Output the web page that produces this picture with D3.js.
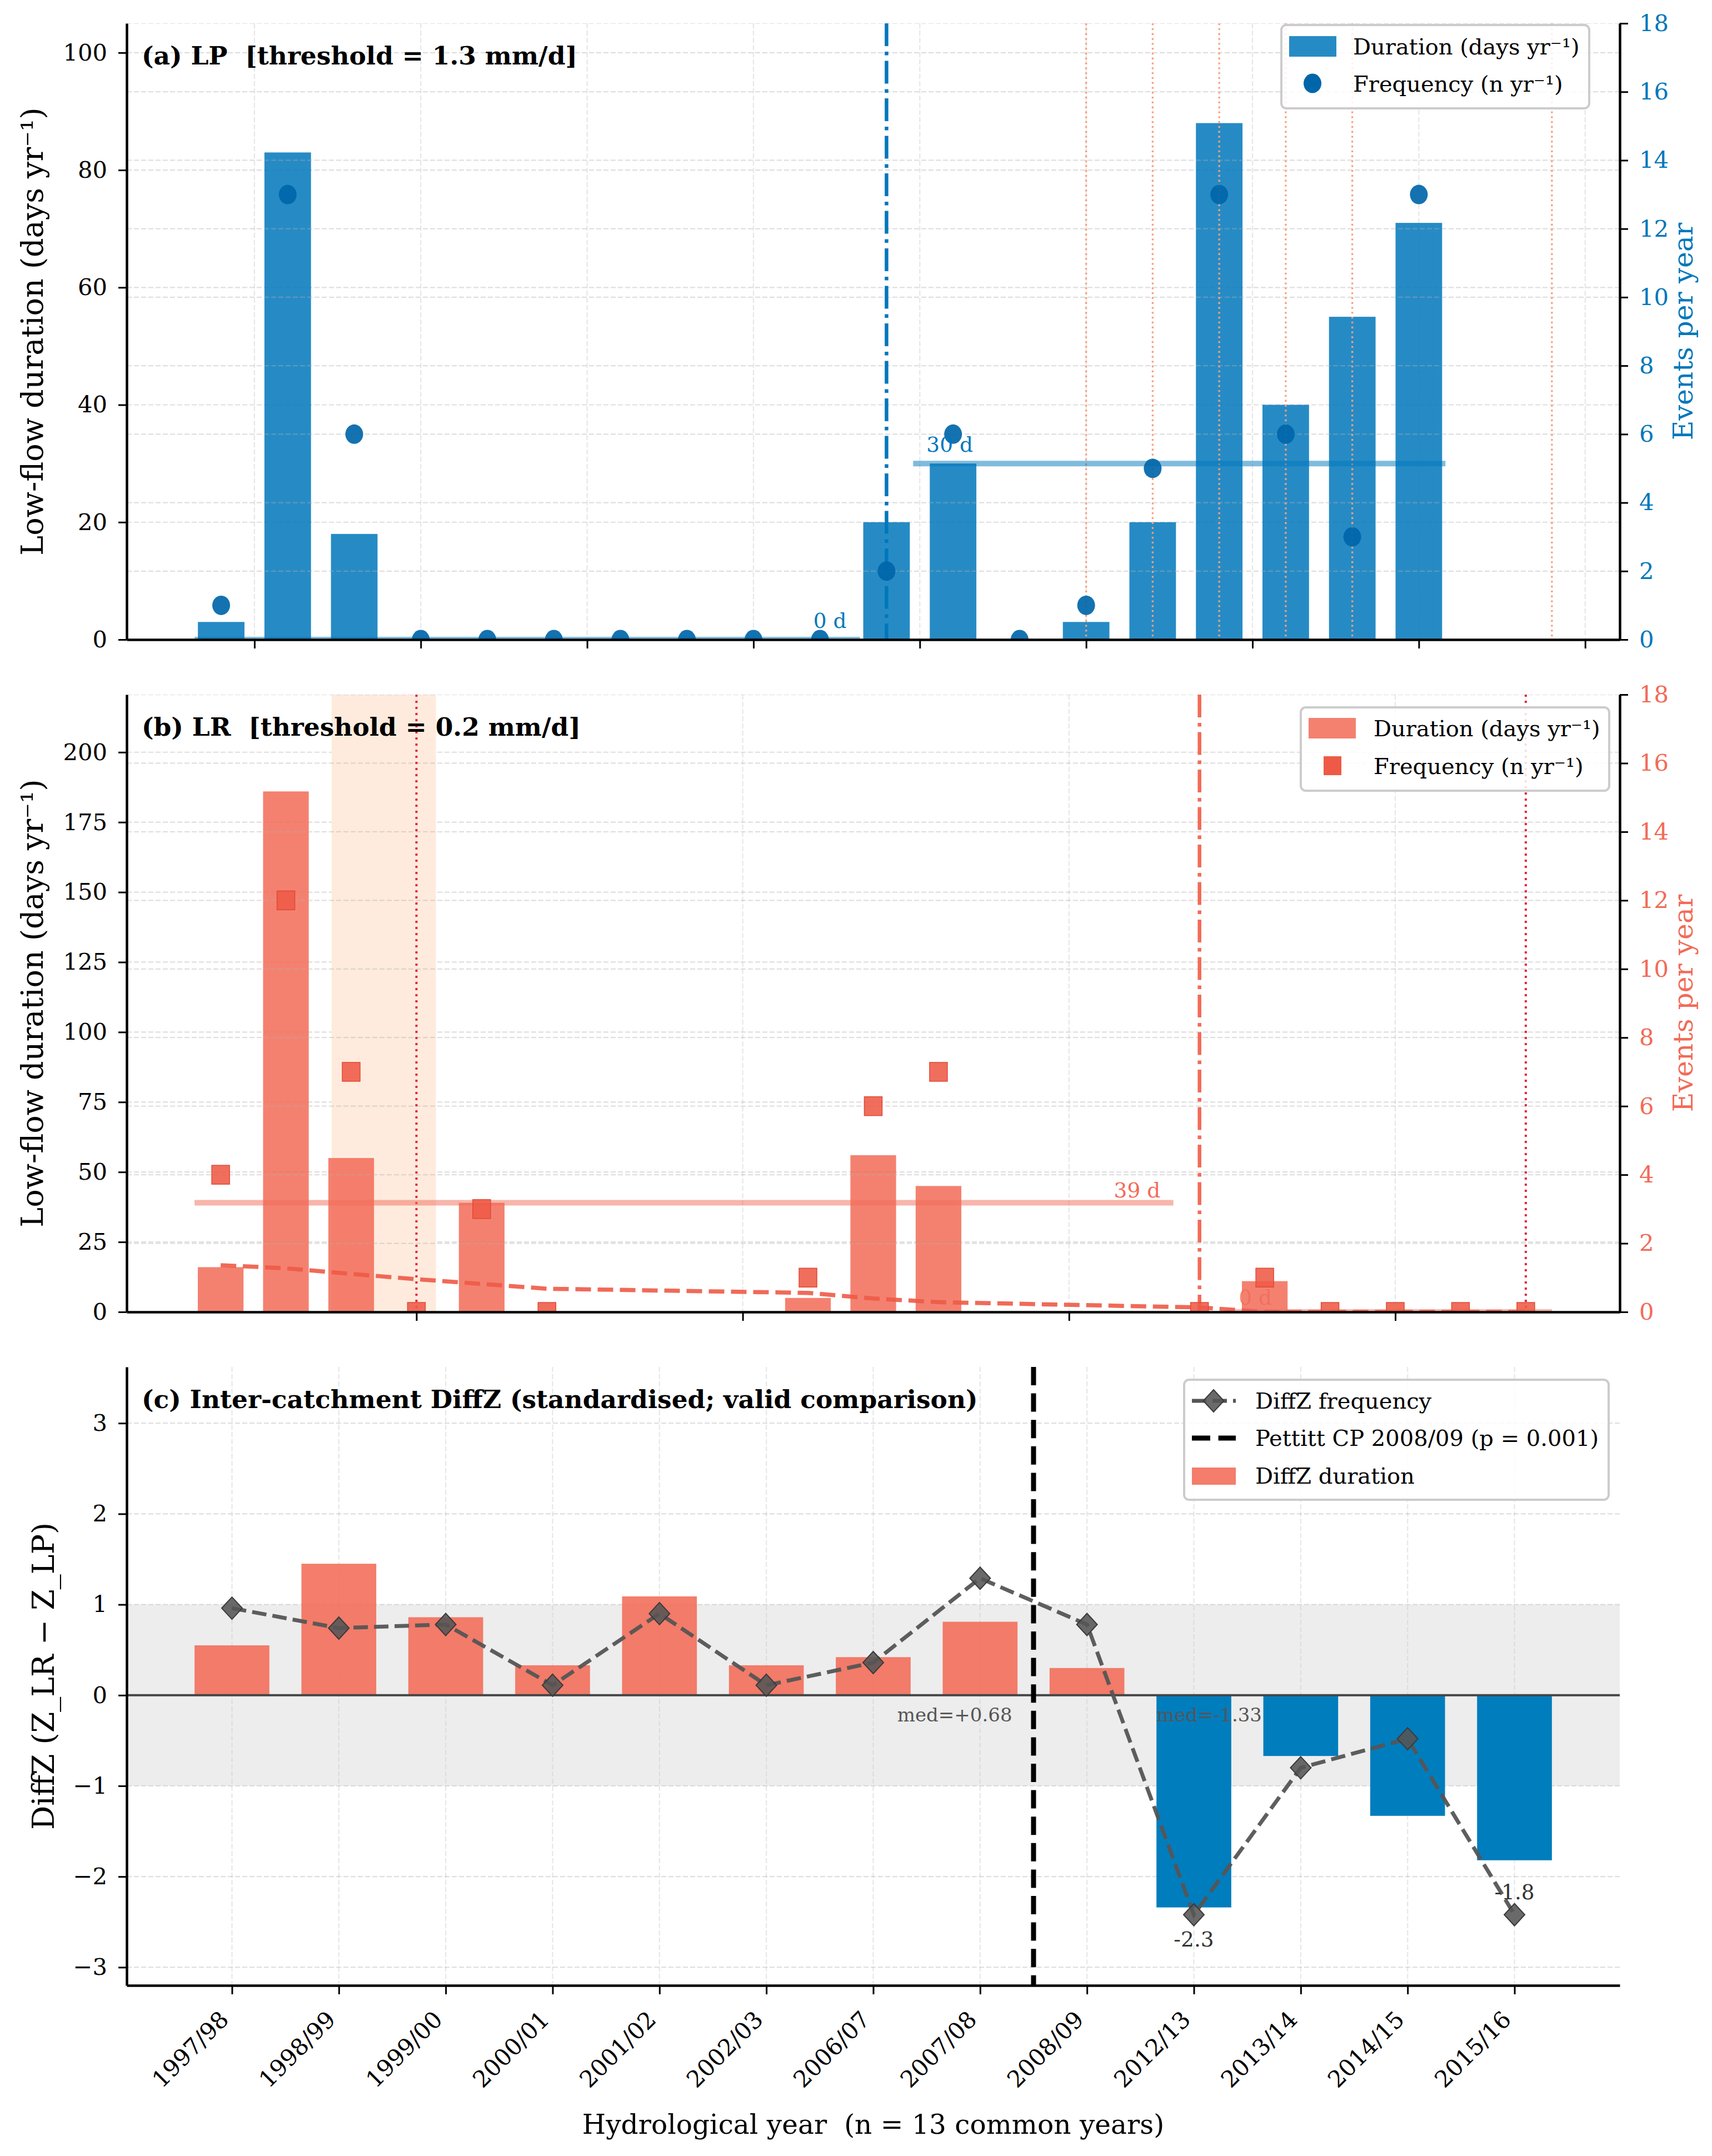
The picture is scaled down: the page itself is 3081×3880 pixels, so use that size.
<!DOCTYPE html>
<html>
<head>
<meta charset="utf-8">
<script src="https://cdn.jsdelivr.net/npm/d3@7"></script>
<style>
  body { margin: 0; background: #fff; }
  svg { display: block; }
  text { white-space: pre; }
</style>
</head>
<body>
<svg id="chart"></svg>
<script>
// ---------------- DATA ----------------
// (a) LP catchment — hydrological years (start year) 1997/98 … 2015/16
const lpYears = [1997, 1998, 1999, 2000, 2001, 2002, 2003, 2004, 2005, 2006, 2007, 2008, 2009, 2010, 2011, 2012, 2013, 2014, 2015];
const lpDuration = [3, 83, 18, 0, 0, 0, 0, 0, 0, 0, 20, 30, 0, 3, 20, 88, 40, 55, 71];
const lpFrequency = [1, 13, 6, 0, 0, 0, 0, 0, 0, 0, 2, 6, 0, 1, 5, 13, 6, 3, 13];
const lpChangeYear = 2007;
const lpMarkedYears = [2010, 2011, 2012, 2013, 2014, 2017];
const lpYearTicks = [1997.5, 2000, 2002.5, 2005, 2007.5, 2010, 2012.5, 2015, 2017.5];
const lpDurationTicks = [0, 20, 40, 60, 80, 100];

// (b) LR catchment
const lrYears = [1997, 1998, 1999, 2000, 2001, 2002, 2006, 2007, 2008, 2012, 2013, 2014, 2015, 2016, 2017];
const lrDuration = [16, 186, 55, 0, 39, 0, 5, 56, 45, 0, 11, 0, 0, 0, 0];
const lrFrequency = [4, 12, 7, 0, 3, 0, 1, 6, 7, 0, 1, 0, 0, 0, 0];
const lrTrend = [16.7, 15.6, 13.6, 11.7, 10.0, 8.3, 6.8, 4.8, 3.5, 1.6, 0, 0, 0, 0, 0];
const lrChangeYear = 2012;
const lrMarkedYears = [2000, 2017];
const lrHighlight = [1998.7, 2000.3];
const lrYearTicks = [2000, 2005, 2010, 2015];
const lrDurationTicks = [0, 25, 50, 75, 100, 125, 150, 175, 200];

const eventTicks = [0, 2, 4, 6, 8, 10, 12, 14, 16, 18];

// (c) DiffZ, 13 common years
const commonYears = ["1997/98", "1998/99", "1999/00", "2000/01", "2001/02", "2002/03", "2006/07", "2007/08", "2008/09", "2012/13", "2013/14", "2014/15", "2015/16"];
const diffDuration = [0.55, 1.45, 0.86, 0.33, 1.09, 0.33, 0.42, 0.81, 0.30, -2.34, -0.67, -1.33, -1.82];
const diffFrequency = [0.96, 0.74, 0.78, 0.11, 0.90, 0.11, 0.36, 1.29, 0.78, -2.42, -0.80, -0.48, -2.42];
const diffChangePos = 7.5;
const diffTicks = [-3, -2, -1, 0, 1, 2, 3];
const pettittLabel = "Pettitt CP 2008/09 (p = 0.001)";

// ---------------- LAYOUT ----------------
const W = 3081, H = 3880;
const FONT = "'DejaVu Serif', serif";
const L = 228, R = 2915;
const PA = { top: 42, bottom: 1151 };
const PB = { top: 1250, bottom: 2361 };
const PC = { top: 2460, bottom: 3573 };
const FS_TICK = 41.7, FS_YLAB = 54, FS_RLAB = 48.8, FS_XLAB = 48.6, FS_TITLE = 45.5, FS_LEG = 40, FS_ANN = 37.5, FS_MED = 34;

const BLUE = "#0077BB", BLUE_MK = "#0066AA";
const SALMON = "#F26B57", RED_MK = "#EE5A46", CRIMSON = "#E3263F", LIGHTSALMON = "#F7A07E";

const svg = d3.select("#chart").attr("width", W).attr("height", H);
svg.append("rect").attr("width", W).attr("height", H).attr("fill", "#fff");
const defs = svg.append("defs");
const intFmt = d3.format("d");

function clip(id, P) {
  defs.append("clipPath").attr("id", id).append("rect")
    .attr("x", L).attr("y", P.top).attr("width", R - L).attr("height", P.bottom - P.top);
  return "url(#" + id + ")";
}

function hGrid(g, scale, ticks) {
  g.selectAll(null).data(ticks).join("line")
    .attr("x1", L).attr("x2", R).attr("y1", d => scale(d)).attr("y2", d => scale(d))
    .attr("stroke", "#b0b0b0").attr("stroke-opacity", 0.4).attr("stroke-width", 2.2).attr("stroke-dasharray", "9,4");
}
function vGrid(g, scale, ticks, P) {
  g.selectAll(null).data(ticks).join("line")
    .attr("x1", d => scale(d)).attr("x2", d => scale(d)).attr("y1", P.top).attr("y2", P.bottom)
    .attr("stroke", "#b0b0b0").attr("stroke-opacity", 0.3).attr("stroke-width", 2.2).attr("stroke-dasharray", "9,4");
}
function styleAxis(g, color) {
  g.select(".domain").attr("stroke", "#000").attr("stroke-width", 4.5);
  g.selectAll(".tick line").attr("stroke", "#000").attr("stroke-width", 3);
  g.selectAll(".tick text").attr("font-family", FONT).attr("font-size", FS_TICK).attr("fill", color || "#000");
}
function yLabel(x, P, text, color, size) {
  svg.append("text").attr("transform", `translate(${x},${(P.top + P.bottom) / 2}) rotate(-90)`)
    .attr("text-anchor", "middle").attr("font-family", FONT).attr("font-size", size)
    .attr("fill", color || "#000").text(text);
}
function title(P, text) {
  svg.append("text").attr("x", 255).attr("y", P.top + 74).attr("font-family", FONT)
    .attr("font-size", FS_TITLE).attr("font-weight", "bold").attr("fill", "#000").text(text);
}
function legendFrame(x, y, w, h) {
  svg.append("rect").attr("x", x).attr("y", y).attr("width", w).attr("height", h).attr("rx", 9)
    .attr("fill", "#fff").attr("fill-opacity", 0.85).attr("stroke", "#cccccc").attr("stroke-width", 4);
}
function legendText(x, y, text) {
  svg.append("text").attr("x", x).attr("y", y).attr("font-family", FONT).attr("font-size", FS_LEG)
    .attr("fill", "#000").text(text);
}

// ======================= PANEL (a) LP =======================
{
  const x = d3.scaleLinear().domain([1995.58, 2018.02]).range([L, R]);
  const y = d3.scaleLinear().domain([0, 105]).range([PA.bottom, PA.top]);
  const y2 = d3.scaleLinear().domain([0, 18]).range([PA.bottom, PA.top]);
  const cp = clip("clipA", PA);
  const g = svg.append("g");
  hGrid(g, y, lpDurationTicks);
  vGrid(g, x, lpYearTicks, PA);
  const gc = svg.append("g").attr("clip-path", cp);
  const bw = x(0.7) - x(0);
  gc.selectAll(null).data(lpYears).join("rect")
    .attr("x", (d) => x(d) - bw / 2).attr("width", bw)
    .attr("y", (d, i) => y(lpDuration[i])).attr("height", (d, i) => y(0) - y(lpDuration[i]))
    .attr("fill", BLUE).attr("fill-opacity", 0.85);
  hGrid(gc, y2, eventTicks);
  gc.selectAll(null).data(lpMarkedYears).join("line")
    .attr("x1", d => x(d)).attr("x2", d => x(d)).attr("y1", PA.top).attr("y2", PA.bottom)
    .attr("stroke", LIGHTSALMON).attr("stroke-width", 3.3).attr("stroke-dasharray", "3.3,5.5");
  const pre = lpYears.map((d, i) => [d, lpDuration[i]]).filter(d => d[0] < lpChangeYear).map(d => d[1]);
  const post = lpYears.map((d, i) => [d, lpDuration[i]]).filter(d => d[0] >= lpChangeYear).map(d => d[1]);
  const mPre = d3.median(pre), mPost = d3.median(post);
  const segs = [[lpYears[0] - 0.4, lpChangeYear - 0.4, mPre], [lpChangeYear + 0.4, lpYears[lpYears.length - 1] + 0.4, mPost]];
  gc.selectAll(null).data(segs).join("line")
    .attr("x1", d => x(d[0])).attr("x2", d => x(d[1])).attr("y1", d => y(d[2])).attr("y2", d => y(d[2]))
    .attr("stroke", BLUE).attr("stroke-opacity", 0.5).attr("stroke-width", 10);
  svg.append("text").attr("x", x(lpChangeYear - 0.6)).attr("y", y(mPre + 2)).attr("text-anchor", "end")
    .attr("font-family", FONT).attr("font-size", FS_ANN).attr("fill", BLUE).text(mPre + " d");
  svg.append("text").attr("x", x(lpChangeYear + 0.6)).attr("y", y(mPost + 2)).attr("text-anchor", "start")
    .attr("font-family", FONT).attr("font-size", FS_ANN).attr("fill", BLUE).text(mPost + " d");
  gc.append("line").attr("x1", x(lpChangeYear)).attr("x2", x(lpChangeYear)).attr("y1", PA.top).attr("y2", PA.bottom)
    .attr("stroke", BLUE).attr("stroke-width", 6.5).attr("stroke-dasharray", "41,10,6.5,10");
  gc.selectAll(null).data(lpYears).join("ellipse")
    .attr("cx", d => x(d)).attr("cy", (d, i) => y2(lpFrequency[i])).attr("rx", 16).attr("ry", 17.5)
    .attr("fill", BLUE_MK).attr("fill-opacity", 0.92);
  const ax = svg.append("g").attr("transform", `translate(${L},0)`)
    .call(d3.axisLeft(y).tickValues(lpDurationTicks).tickFormat(intFmt).tickSize(15).tickPadding(20).tickSizeOuter(0));
  styleAxis(ax);
  const ax2 = svg.append("g").attr("transform", `translate(${R},0)`)
    .call(d3.axisRight(y2).tickValues(eventTicks).tickFormat(intFmt).tickSize(15).tickPadding(20).tickSizeOuter(0));
  styleAxis(ax2, BLUE);
  const axb = svg.append("g").attr("transform", `translate(0,${PA.bottom})`)
    .call(d3.axisBottom(x).tickValues(lpYearTicks).tickSize(16).tickFormat("").tickSizeOuter(0));
  styleAxis(axb);
  yLabel(77, PA, "Low-flow duration (days yr⁻¹)", "#000", FS_YLAB);
  yLabel(3046, PA, "Events per year", BLUE, FS_RLAB);
  title(PA, "(a) LP  [threshold = 1.3 mm/d]");
  legendFrame(2306, 45, 554, 150);
  svg.append("rect").attr("x", 2320).attr("y", 65).attr("width", 85).attr("height", 37).attr("fill", BLUE).attr("fill-opacity", 0.85);
  svg.append("ellipse").attr("cx", 2362).attr("cy", 150).attr("rx", 16).attr("ry", 17.5).attr("fill", BLUE_MK);
  legendText(2435, 98, "Duration (days yr⁻¹)");
  legendText(2435, 165, "Frequency (n yr⁻¹)");
}

// ======================= PANEL (b) LR =======================
{
  const x = d3.scaleLinear().domain([1995.56, 2018.44]).range([L, R]);
  const y = d3.scaleLinear().domain([0, 220.6]).range([PB.bottom, PB.top]);
  const y2 = d3.scaleLinear().domain([0, 18]).range([PB.bottom, PB.top]);
  const cp = clip("clipB", PB);
  const g = svg.append("g");
  hGrid(g, y, lrDurationTicks);
  vGrid(g, x, lrYearTicks, PB);
  const gc = svg.append("g").attr("clip-path", cp);
  gc.append("rect").attr("x", x(lrHighlight[0])).attr("width", x(lrHighlight[1]) - x(lrHighlight[0]))
    .attr("y", PB.top).attr("height", PB.bottom - PB.top).attr("fill", "#FEEBDD");
  const bw = x(0.7) - x(0);
  gc.selectAll(null).data(lrYears).join("rect")
    .attr("x", d => x(d) - bw / 2).attr("width", bw)
    .attr("y", (d, i) => y(lrDuration[i])).attr("height", (d, i) => y(0) - y(lrDuration[i]))
    .attr("fill", SALMON).attr("fill-opacity", 0.85);
  hGrid(gc, y2, eventTicks);
  gc.selectAll(null).data(lrMarkedYears).join("line")
    .attr("x1", d => x(d)).attr("x2", d => x(d)).attr("y1", PB.top).attr("y2", PB.bottom)
    .attr("stroke", CRIMSON).attr("stroke-width", 4).attr("stroke-dasharray", "4,7");
  const pre = lrYears.map((d, i) => [d, lrDuration[i]]).filter(d => d[0] < lrChangeYear).map(d => d[1]);
  const post = lrYears.map((d, i) => [d, lrDuration[i]]).filter(d => d[0] >= lrChangeYear).map(d => d[1]);
  const mPre = d3.median(pre), mPost = d3.median(post);
  const segs = [[lrYears[0] - 0.4, lrChangeYear - 0.4, mPre], [lrChangeYear + 0.4, lrYears[lrYears.length - 1] + 0.4, mPost]];
  gc.selectAll(null).data(segs).join("line")
    .attr("x1", d => x(d[0])).attr("x2", d => x(d[1])).attr("y1", d => y(d[2])).attr("y2", d => y(d[2]))
    .attr("stroke", SALMON).attr("stroke-opacity", 0.5).attr("stroke-width", 10);
  const line = d3.line().x((d, i) => x(lrYears[i])).y(d => y(d));
  gc.append("path").attr("d", line(lrTrend)).attr("fill", "none").attr("stroke", RED_MK)
    .attr("stroke-opacity", 0.9).attr("stroke-width", 7.5).attr("stroke-dasharray", "28,12");
  svg.append("text").attr("x", x(lrChangeYear - 0.6)).attr("y", y(mPre + 2)).attr("text-anchor", "end")
    .attr("font-family", FONT).attr("font-size", FS_ANN).attr("fill", SALMON).text(mPre + " d");
  svg.append("text").attr("x", x(lrChangeYear + 0.6)).attr("y", y(mPost + 2.5)).attr("text-anchor", "start")
    .attr("font-family", FONT).attr("font-size", FS_ANN).attr("fill", SALMON).attr("fill-opacity", 0.8).text(mPost + " d");
  gc.append("line").attr("x1", x(lrChangeYear)).attr("x2", x(lrChangeYear)).attr("y1", PB.top).attr("y2", PB.bottom)
    .attr("stroke", SALMON).attr("stroke-width", 6.5).attr("stroke-dasharray", "41,10,6.5,10");
  gc.selectAll(null).data(lrYears).join("rect")
    .attr("x", d => x(d) - 16).attr("y", (d, i) => y2(lrFrequency[i]) - 17).attr("width", 32).attr("height", 34)
    .attr("fill", RED_MK).attr("fill-opacity", 0.88).attr("stroke", "#E04A38").attr("stroke-width", 1.5);
  const ax = svg.append("g").attr("transform", `translate(${L},0)`)
    .call(d3.axisLeft(y).tickValues(lrDurationTicks).tickFormat(intFmt).tickSize(15).tickPadding(20).tickSizeOuter(0));
  styleAxis(ax);
  const ax2 = svg.append("g").attr("transform", `translate(${R},0)`)
    .call(d3.axisRight(y2).tickValues(eventTicks).tickFormat(intFmt).tickSize(15).tickPadding(20).tickSizeOuter(0));
  styleAxis(ax2, SALMON);
  const axb = svg.append("g").attr("transform", `translate(0,${PB.bottom})`)
    .call(d3.axisBottom(x).tickValues(lrYearTicks).tickSize(16).tickFormat("").tickSizeOuter(0));
  styleAxis(axb);
  yLabel(77, PB, "Low-flow duration (days yr⁻¹)", "#000", FS_YLAB);
  yLabel(3046, PB, "Events per year", SALMON, FS_RLAB);
  title(PB, "(b) LR  [threshold = 0.2 mm/d]");
  legendFrame(2341, 1273, 555, 150);
  svg.append("rect").attr("x", 2355).attr("y", 1292).attr("width", 85).attr("height", 37).attr("fill", SALMON).attr("fill-opacity", 0.85);
  svg.append("rect").attr("x", 2382).attr("y", 1361).attr("width", 32).attr("height", 34).attr("fill", RED_MK);
  legendText(2472, 1325, "Duration (days yr⁻¹)");
  legendText(2472, 1393, "Frequency (n yr⁻¹)");
}

// ======================= PANEL (c) DiffZ =======================
{
  const idx = commonYears.map((d, i) => i);
  const x = d3.scaleLinear().domain([-0.985, 12.985]).range([L, R]);
  const y = d3.scaleLinear().domain([-3.2, 3.62]).range([PC.bottom, PC.top]);
  const cp = clip("clipC", PC);
  const g = svg.append("g");
  hGrid(g, y, diffTicks);
  vGrid(g, x, idx, PC);
  const gc = svg.append("g").attr("clip-path", cp);
  gc.append("rect").attr("x", L).attr("width", R - L).attr("y", y(1)).attr("height", y(-1) - y(1))
    .attr("fill", "#cccccc").attr("fill-opacity", 0.35);
  const bw = x(0.7) - x(0);
  gc.selectAll(null).data(idx).join("rect")
    .attr("x", d => x(d) - bw / 2).attr("width", bw)
    .attr("y", d => y(Math.max(0, diffDuration[d]))).attr("height", d => Math.abs(y(diffDuration[d]) - y(0)))
    .attr("fill", d => diffDuration[d] >= 0 ? "#F26B57" : "#007DBD")
    .attr("fill-opacity", d => diffDuration[d] >= 0 ? 0.88 : 1);
  gc.append("line").attr("x1", L).attr("x2", R).attr("y1", y(0)).attr("y2", y(0)).attr("stroke", "#444").attr("stroke-width", 4);
  const pre = idx.filter(i => i < diffChangePos).map(i => diffDuration[i]);
  const post = idx.filter(i => i > diffChangePos).map(i => diffDuration[i]);
  const fmt = v => "med=" + (v >= 0 ? "+" : "-") + Math.abs(v).toFixed(2);
  svg.append("text").attr("x", x(diffChangePos - 0.2)).attr("y", y(-0.29)).attr("text-anchor", "end")
    .attr("font-family", FONT).attr("font-size", FS_MED).attr("fill", "#555").text(fmt(d3.median(pre)));
  svg.append("text").attr("x", x(diffChangePos + 1.15)).attr("y", y(-0.29)).attr("text-anchor", "start")
    .attr("font-family", FONT).attr("font-size", FS_MED).attr("fill", "#555").text(fmt(d3.median(post)));
  gc.append("line").attr("x1", x(diffChangePos)).attr("x2", x(diffChangePos)).attr("y1", PC.top).attr("y2", PC.bottom)
    .attr("stroke", "#000").attr("stroke-width", 9).attr("stroke-dasharray", "33,14.6");
  const line = d3.line().x((d, i) => x(i)).y(d => y(d));
  gc.append("path").attr("d", line(diffFrequency)).attr("fill", "none").attr("stroke", "#555")
    .attr("stroke-opacity", 0.95).attr("stroke-width", 7).attr("stroke-dasharray", "26,11");
  const diamond = (cx, cy) => `M${cx},${cy - 20}L${cx + 18.5},${cy}L${cx},${cy + 20}L${cx - 18.5},${cy}Z`;
  gc.selectAll(null).data(idx).join("path")
    .attr("d", d => diamond(x(d), y(diffFrequency[d])))
    .attr("fill", "#555").attr("fill-opacity", 0.88).attr("stroke", "#3a3a3a").attr("stroke-width", 2);
  svg.selectAll(null).data(idx.filter(i => diffDuration[i] < -1.5)).join("text")
    .attr("x", d => x(d)).attr("y", d => y(diffDuration[d] - 0.35)).attr("dy", "0.35em")
    .attr("text-anchor", "middle").attr("font-family", FONT).attr("font-size", FS_ANN).attr("fill", "#333")
    .text(d => diffDuration[d].toFixed(1));
  const ax = svg.append("g").attr("transform", `translate(${L},0)`)
    .call(d3.axisLeft(y).tickValues(diffTicks).tickFormat(intFmt).tickSize(15).tickPadding(20).tickSizeOuter(0));
  styleAxis(ax);
  const axb = svg.append("g").attr("transform", `translate(0,${PC.bottom})`)
    .call(d3.axisBottom(x).tickValues(idx).tickFormat(i => commonYears[i]).tickSize(16).tickSizeOuter(0));
  styleAxis(axb);
  axb.selectAll(".tick text").attr("text-anchor", "end").attr("x", 0).attr("y", 0).attr("dy", 0)
    .attr("transform", "translate(-4,64) rotate(-45)");
  yLabel(97, PC, "DiffZ (Z_LR − Z_LP)", "#000", FS_YLAB);
  svg.append("text").attr("x", (L + R) / 2).attr("y", 3840).attr("text-anchor", "middle")
    .attr("font-family", FONT).attr("font-size", FS_XLAB).attr("fill", "#000")
    .text("Hydrological year  (n = 13 common years)");
  title(PC, "(c) Inter-catchment DiffZ (standardised; valid comparison)");
  legendFrame(2131, 2483, 764, 216);
  svg.append("line").attr("x1", 2145).attr("x2", 2224).attr("y1", 2521).attr("y2", 2521)
    .attr("stroke", "#555").attr("stroke-width", 7).attr("stroke-dasharray", "26,11");
  svg.append("path").attr("d", diamond(2184, 2521)).attr("fill", "#555").attr("fill-opacity", 0.88).attr("stroke", "#3a3a3a").attr("stroke-width", 2);
  svg.append("line").attr("x1", 2145).attr("x2", 2224).attr("y1", 2588).attr("y2", 2588)
    .attr("stroke", "#000").attr("stroke-width", 9).attr("stroke-dasharray", "33,14.6");
  svg.append("rect").attr("x", 2145).attr("y", 2641).attr("width", 79).attr("height", 31).attr("fill", "#F26B57").attr("fill-opacity", 0.88);
  legendText(2259, 2535, "DiffZ frequency");
  legendText(2259, 2602, pettittLabel);
  legendText(2259, 2670, "DiffZ duration");
}
</script>
</body>
</html>
